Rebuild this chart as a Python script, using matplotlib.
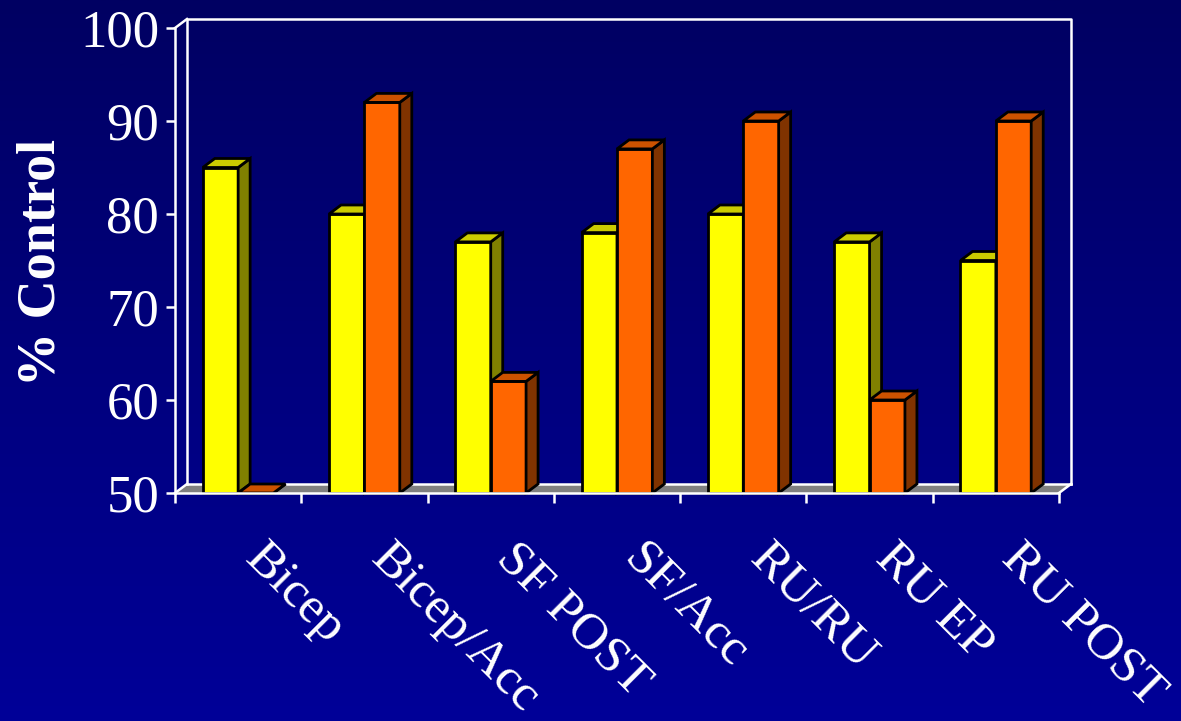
import numpy as np
import matplotlib
matplotlib.use("Agg")
import matplotlib.pyplot as plt
from matplotlib.patches import Polygon, Rectangle
from matplotlib.lines import Line2D
from matplotlib import transforms

# ---- data ----
categories = ["Bicep", "Bicep/Acc", "SF POST", "SF/Acc", "RU/RU", "RU EP", "RU POST"]
series_a = [85, 80, 77, 78, 80, 77, 75]      # yellow bars
series_b = [50, 92, 62, 87, 90, 60, 90]      # orange bars
y_ticks = [50, 60, 70, 80, 90, 100]
y_label = "% Control"

# ---- styling ----
W, H, DPI = 1181, 721, 100
FONT = "Liberation Serif"
yellow = dict(front="#ffff00", side="#808000", top="#cccc00")
orange = dict(front="#ff6600", side="#803300", top="#cc5200")
floor_color = "#808080"
line_w = 1.8

fig = plt.figure(figsize=(W / DPI, H / DPI), dpi=DPI)

# vertical blue gradient behind everything
bg = fig.add_axes([0, 0, 1, 1], zorder=-10)
grad = np.linspace(0, 1, 256)[:, None]
top_rgb = np.array([0, 0, 98]) / 255
bot_rgb = np.array([0, 0, 152]) / 255
img = top_rgb[None, None, :] * (1 - grad[..., None]) + bot_rgb[None, None, :] * grad[..., None]
bg.imshow(img, aspect="auto", extent=[0, 1, 0, 1], origin="upper")
bg.set_axis_off()

# plotting area (front plane of the 3-D box)
left_px, right_px, top_px, bottom_px = 175, 1059, 28, 493
ax = fig.add_axes([left_px / W, 1 - bottom_px / H,
                   (right_px - left_px) / W, (bottom_px - top_px) / H])
n = len(categories)
ax.set_xlim(0, n)
ax.set_ylim(y_ticks[0], y_ticks[-1])
ax.patch.set_visible(False)

# depth offset of the 3-D effect, converted from screen pixels to data units
p0 = ax.transData.transform((0, y_ticks[0]))
p1 = ax.transData.inverted().transform((p0[0] + 12, p0[1] + 9))
DX, DY = p1[0], p1[1] - y_ticks[0]
y0, y1 = y_ticks[0], y_ticks[-1]

def add_line(xs, ys, z=1):
    ax.add_line(Line2D(xs, ys, color="white", lw=line_w, clip_on=False,
                       zorder=z, solid_capstyle="projecting"))

# floor
ax.add_patch(Polygon([(0, y0), (n, y0), (n + DX, y0 + DY), (DX, y0 + DY)],
                     closed=True, facecolor=floor_color, edgecolor="none",
                     clip_on=False, zorder=1))
add_line([DX, n + DX], [y0 + DY, y0 + DY])
add_line([n, n + DX], [y0, y0 + DY])
add_line([0, DX], [y0, y0 + DY])

# back wall outline
add_line([DX, DX, n + DX, n + DX], [y0 + DY, y1 + DY, y1 + DY, y0 + DY])
add_line([0, DX], [y1, y1 + DY])

# 3-D bars
bar_w = 0.28
offsets = [0.22, 0.50]

def draw_bar(x0, v, col, z):
    kw = dict(edgecolor="black", lw=2.0, clip_on=False, zorder=z,
              joinstyle="miter")
    ax.add_patch(Rectangle((x0, y0), bar_w, v - y0, facecolor=col["front"], **kw))
    ax.add_patch(Polygon([(x0 + bar_w, y0), (x0 + bar_w + DX, y0 + DY),
                          (x0 + bar_w + DX, v + DY), (x0 + bar_w, v)],
                         closed=True, facecolor=col["side"], **kw))
    ax.add_patch(Polygon([(x0, v), (x0 + DX, v + DY),
                          (x0 + bar_w + DX, v + DY), (x0 + bar_w, v)],
                         closed=True, facecolor=col["top"], **kw))

for i in range(n):
    draw_bar(i + offsets[0], series_a[i], yellow, 3 + i * 0.01)
    draw_bar(i + offsets[1], series_b[i], orange, 3.005 + i * 0.01)

# axes spines and ticks
for s in ("top", "right"):
    ax.spines[s].set_visible(False)
for s in ("left", "bottom"):
    ax.spines[s].set_color("white")
    ax.spines[s].set_linewidth(line_w)
    ax.spines[s].set_zorder(5)

ax.set_yticks(y_ticks)
ax.set_yticklabels([str(t) for t in y_ticks])
ax.tick_params(axis="y", direction="out", length=6.5, width=line_w,
               color="white", labelcolor="white", labelsize=38, pad=5)
for lab in ax.get_yticklabels():
    lab.set_family(FONT)

ax.set_xticks(np.arange(n + 1))
ax.set_xticklabels([])
ax.tick_params(axis="x", direction="out", length=7.5, width=line_w,
               color="white")

# rotated category names
lab_tr = transforms.blended_transform_factory(ax.transData, ax.transAxes) + \
    transforms.ScaledTranslation(30 / DPI, -42 / DPI, fig.dpi_scale_trans)
for i, name in enumerate(categories):
    ax.text(i + 0.5, 0, name, transform=lab_tr, rotation=-45,
            rotation_mode="anchor", ha="left", va="top",
            fontsize=37, color="white", family=FONT, clip_on=False)

fig.text(42 / W, 1 - 262 / H, y_label, rotation=90, ha="center", va="center",
         fontsize=39, fontweight="bold", color="white", family=FONT)

fig.savefig("out.png", dpi=DPI)
